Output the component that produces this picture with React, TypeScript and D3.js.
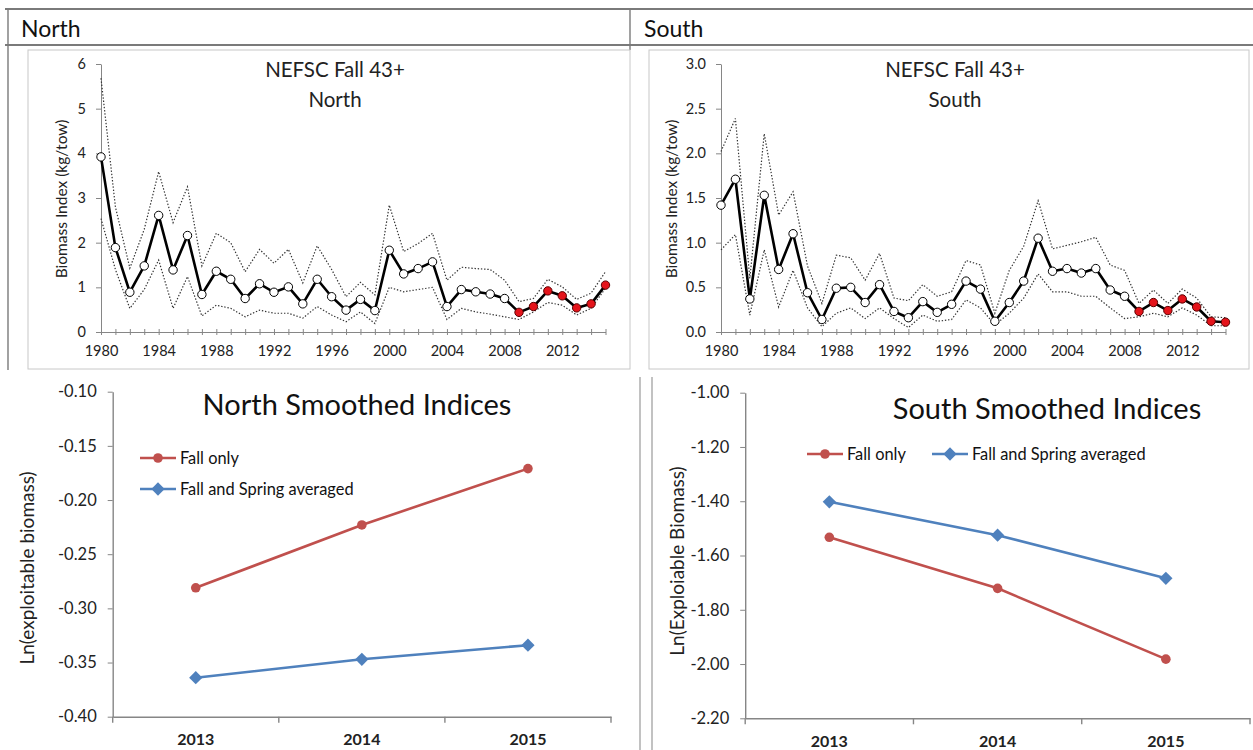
import React, { useEffect, useRef } from 'react';
import * as d3 from 'd3';

const FONT = 'Lato, "Open Sans", sans-serif';

// survey years (top panels)
const YEARS = [1980, 1981, 1982, 1983, 1984, 1985, 1986, 1987, 1988, 1989,
    1990, 1991, 1992, 1993, 1994, 1995, 1996, 1997, 1998, 1999,
    2000, 2001, 2002, 2003, 2004, 2005, 2006, 2007, 2008, 2009,
    2010, 2011, 2012, 2013, 2014, 2015];
const RED_FROM = 2009;

const NORTH_MEAN = [3.92, 1.89, 0.89, 1.48, 2.61, 1.39, 2.16, 0.84, 1.36, 1.18,
    0.75, 1.08, 0.89, 1.01, 0.63, 1.18, 0.79, 0.49, 0.73, 0.48,
    1.83, 1.30, 1.42, 1.57, 0.57, 0.95, 0.90, 0.85, 0.75, 0.44,
    0.57, 0.92, 0.81, 0.54, 0.63, 1.05];
const NORTH_UPPER = [5.68, 2.8, 1.43, 2.3, 3.59, 2.45, 3.25, 1.48, 2.21, 2.0,
    1.35, 1.85, 1.54, 1.85, 1.1, 1.93, 1.4, 0.79, 1.11, 0.83,
    2.84, 1.80, 1.98, 2.21, 1.16, 1.45, 1.42, 1.40, 1.16, 0.68,
    0.75, 1.18, 1.01, 0.73, 0.87, 1.35];
const NORTH_LOWER = [2.54, 1.4, 0.53, 0.95, 1.61, 0.53, 1.24, 0.36, 0.60, 0.53,
    0.34, 0.49, 0.42, 0.42, 0.31, 0.57, 0.38, 0.23, 0.45, 0.19,
    1.0, 0.90, 0.95, 1.0, 0.28, 0.53, 0.45, 0.40, 0.34, 0.28,
    0.45, 0.66, 0.60, 0.38, 0.53, 0.98];

const SOUTH_MEAN = [1.42, 1.71, 0.37, 1.53, 0.70, 1.10, 0.44, 0.14, 0.49, 0.50,
    0.33, 0.53, 0.23, 0.16, 0.34, 0.22, 0.31, 0.57, 0.48, 0.12,
    0.33, 0.57, 1.05, 0.68, 0.71, 0.66, 0.71, 0.47, 0.40, 0.23,
    0.33, 0.24, 0.37, 0.28, 0.12, 0.11];
const SOUTH_UPPER = [2.02, 2.39, 0.6, 2.22, 1.31, 1.57, 0.74, 0.32, 0.86, 0.83,
    0.58, 0.88, 0.38, 0.35, 0.53, 0.40, 0.45, 0.80, 0.75, 0.21,
    0.69, 0.96, 1.47, 0.93, 0.97, 1.01, 1.06, 0.75, 0.69, 0.32,
    0.47, 0.32, 0.48, 0.38, 0.17, 0.16];
const SOUTH_LOWER = [0.92, 1.09, 0.19, 0.92, 0.28, 0.69, 0.27, 0.06, 0.21, 0.27,
    0.15, 0.27, 0.15, 0.05, 0.19, 0.12, 0.14, 0.36, 0.27, 0.08,
    0.21, 0.38, 0.65, 0.45, 0.45, 0.40, 0.40, 0.27, 0.15, 0.17,
    0.21, 0.17, 0.27, 0.19, 0.07, 0.07];

const NORTH_Y_TICKS = [0, 1, 2, 3, 4, 5, 6];
const SOUTH_Y_TICKS = [0, 0.5, 1.0, 1.5, 2.0, 2.5, 3.0];

// smoothed indices (bottom panels)
const SMOOTH_YEARS = ['2013', '2014', '2015'];
const NORTH_FALL_ONLY = [-0.281, -0.223, -0.171];
const NORTH_FALL_SPRING = [-0.364, -0.347, -0.334];
const SOUTH_FALL_ONLY = [-1.533, -1.721, -1.982];
const SOUTH_FALL_SPRING = [-1.402, -1.525, -1.684];
const NORTH_SMOOTH_TICKS = [-0.40, -0.35, -0.30, -0.25, -0.20, -0.15, -0.10];
const SOUTH_SMOOTH_TICKS = [-2.2, -2.0, -1.8, -1.6, -1.4, -1.2, -1.0];

const RED = '#C0504D';
const BLUE = '#4F81BD';
const AXIS = '#868686';

function styleAxis(a, size, color = '#222', weight = 'normal') {
    a.selectAll('.domain').attr('stroke', AXIS);
    a.selectAll('.tick line').attr('stroke', AXIS);
    a.selectAll('text')
        .attr('font-family', FONT)
        .attr('font-size', size)
        .attr('font-weight', weight)
        .attr('fill', color);
}

function drawSurvey(svg, c) {
    const g = svg.append('g');

    g.append('rect')
        .attr('x', c.box[0]).attr('y', 50)
        .attr('width', c.box[1] - c.box[0]).attr('height', 319)
        .attr('fill', 'none').attr('stroke', '#c8c8c8');

    const x = d3.scaleLinear().domain([YEARS[0], YEARS[YEARS.length - 1]]).range(c.xRange);
    const y = d3.scaleLinear().domain([0, c.yMax]).range([332, 64]);

    // x axis: labels every 4 years, ticks every year crossing the line
    const xa = g.append('g')
        .attr('transform', `translate(0,${y(0)})`)
        .call(d3.axisBottom(x).tickValues(YEARS).tickSize(3).tickSizeOuter(0).tickPadding(11)
            .tickFormat(d => ((+d - 1980) % 4 === 0 ? String(d) : '')));
    styleAxis(xa, 14.5);
    const xt = g.append('g')
        .attr('transform', `translate(0,${y(0)})`)
        .call(d3.axisTop(x).tickValues(YEARS).tickSize(3).tickFormat(() => ''));
    xt.select('.domain').remove();
    styleAxis(xt, 14.5);

    const ya = g.append('g')
        .attr('transform', `translate(${c.xRange[0]},0)`)
        .call(d3.axisLeft(y).tickValues(c.yTicks).tickSize(5).tickSizeOuter(0).tickPadding(10)
            .tickFormat(c.fmt));
    styleAxis(ya, 14.5);

    // y label
    g.append('text')
        .attr('transform', `translate(${c.yLabelX},199) rotate(-90)`)
        .attr('text-anchor', 'middle')
        .attr('dy', '0.35em')
        .attr('font-family', FONT).attr('font-size', 15.5).attr('fill', '#222')
        .text('Biomass Index (kg/tow)');

    // title
    g.append('text')
        .attr('x', c.titleX).attr('y', 77)
        .attr('text-anchor', 'middle')
        .attr('font-family', FONT).attr('font-size', 20.5).attr('fill', '#222')
        .text('NEFSC Fall 43+');
    g.append('text')
        .attr('x', c.titleX).attr('y', 107)
        .attr('text-anchor', 'middle')
        .attr('font-family', FONT).attr('font-size', 20.5).attr('fill', '#222')
        .text(c.region);

    const line = d3.line().x((_, i) => x(YEARS[i])).y(d => y(d));

    [c.upper, c.lower].forEach(s => {
        g.append('path')
            .attr('d', line(s))
            .attr('fill', 'none')
            .attr('stroke', '#333')
            .attr('stroke-width', 1.2)
            .attr('stroke-dasharray', '1.4 1.8');
    });

    g.append('path')
        .attr('d', line(c.mean))
        .attr('fill', 'none')
        .attr('stroke', '#000')
        .attr('stroke-width', 2.6)
        .attr('stroke-linejoin', 'round');

    g.selectAll('circle.pt')
        .data(c.mean)
        .join('circle')
        .attr('class', 'pt')
        .attr('cx', (_, i) => x(YEARS[i]))
        .attr('cy', d => y(d))
        .attr('r', 4.2)
        .attr('fill', (_, i) => (YEARS[i] >= RED_FROM ? '#e4141b' : '#fff'))
        .attr('stroke', (_, i) => (YEARS[i] >= RED_FROM ? '#5a0000' : '#000'))
        .attr('stroke-width', 1);
}

function drawSmoothed(svg, c) {
    const g = svg.append('g');

    const x = d3.scaleBand().domain(SMOOTH_YEARS).range(c.xRange).padding(0);
    const y = d3.scaleLinear().domain(c.yDomain).range(c.yRange);

    const ya = g.append('g')
        .attr('transform', `translate(${c.xRange[0]},0)`)
        .call(d3.axisLeft(y).tickValues(c.yTicks).tickSize(5).tickSizeOuter(0).tickPadding(11)
            .tickFormat(d => (+d).toFixed(2)));
    styleAxis(ya, 16.5);
    ya.select('.domain').attr('stroke-width', 1.4);

    const xa = g.append('g')
        .attr('transform', `translate(0,${c.yRange[0]})`)
        .call(d3.axisBottom(x).tickSize(0).tickSizeOuter(0).tickPadding(17));
    styleAxis(xa, 16, '#222', 'bold');
    xa.select('.domain').attr('stroke-width', 1.4);

    // category boundary ticks
    const bounds = [c.xRange[0], ...SMOOTH_YEARS.map(d => x(d) + x.bandwidth())];
    g.selectAll('line.bt')
        .data(bounds)
        .join('line')
        .attr('class', 'bt')
        .attr('x1', d => d).attr('x2', d => d)
        .attr('y1', c.yRange[0]).attr('y2', c.yRange[0] + 6)
        .attr('stroke', AXIS).attr('stroke-width', 1.4);

    g.append('text')
        .attr('transform', `translate(${c.yLabelX},${c.yLabelY}) rotate(-90)`)
        .attr('text-anchor', 'middle')
        .attr('dy', '0.35em')
        .attr('font-family', FONT).attr('font-size', 19).attr('fill', '#222')
        .text(c.yLabel);

    g.append('text')
        .attr('x', c.titleX).attr('y', c.titleY)
        .attr('text-anchor', 'middle')
        .attr('font-family', FONT).attr('font-size', 29).attr('fill', '#111')
        .text(c.title);

    const cx = d => x(d) + x.bandwidth() / 2;
    const line = d3.line().x((_, i) => cx(SMOOTH_YEARS[i])).y(d => y(d));
    const diamond = d3.symbol(d3.symbolSquare, 88);

    const series = [
        { name: 'Fall only', values: c.fall, color: RED, marker: 'circle' },
        { name: 'Fall and Spring averaged', values: c.both, color: BLUE, marker: 'diamond' },
    ];

    series.forEach(s => {
        g.append('path')
            .attr('d', line(s.values))
            .attr('fill', 'none')
            .attr('stroke', s.color)
            .attr('stroke-width', 2.6);
        s.values.forEach((v, i) => {
            const px = cx(SMOOTH_YEARS[i]);
            const py = y(v);
            if (s.marker === 'circle') {
                g.append('circle').attr('cx', px).attr('cy', py).attr('r', 4.8).attr('fill', s.color);
            } else {
                g.append('path').attr('d', diamond())
                    .attr('transform', `translate(${px},${py}) rotate(45)`)
                    .attr('fill', s.color);
            }
        });
    });

    // legend
    series.forEach((s, i) => {
        const lx = c.legend[i][0];
        const ly = c.legend[i][1];
        g.append('line')
            .attr('x1', lx).attr('x2', lx + 36)
            .attr('y1', ly).attr('y2', ly)
            .attr('stroke', s.color).attr('stroke-width', 2.6);
        if (s.marker === 'circle') {
            g.append('circle').attr('cx', lx + 18).attr('cy', ly).attr('r', 4.8).attr('fill', s.color);
        } else {
            g.append('path').attr('d', diamond())
                .attr('transform', `translate(${lx + 18},${ly}) rotate(45)`)
                .attr('fill', s.color);
        }
        g.append('text')
            .attr('x', lx + 40).attr('y', ly)
            .attr('dy', '0.35em')
            .attr('font-family', FONT).attr('font-size', 16.4).attr('fill', '#111')
            .text(s.name);
    });
}

const App = () => {
    const svgRef = useRef(null);

    useEffect(() => {
        const svg = d3.select(svgRef.current);
        svg.selectAll('*').remove();

        // table frame
        const frame = svg.append('g').attr('stroke', '#7a7a7a').attr('stroke-width', 1.8);
        frame.append('line').attr('x1', 5).attr('x2', 1253).attr('y1', 9).attr('y2', 9);
        frame.append('line').attr('x1', 5).attr('x2', 1253).attr('y1', 45).attr('y2', 45);
        frame.append('line').attr('x1', 8).attr('x2', 8).attr('y1', 9).attr('y2', 370).attr('stroke-width', 1.4);
        frame.append('line').attr('x1', 630).attr('x2', 630).attr('y1', 9).attr('y2', 50).attr('stroke-width', 1.4);
        svg.append('line').attr('x1', 640).attr('x2', 640).attr('y1', 377).attr('y2', 750)
            .attr('stroke', '#a8a8a8').attr('stroke-width', 1.4);
        svg.append('line').attr('x1', 652).attr('x2', 652).attr('y1', 377).attr('y2', 750)
            .attr('stroke', '#a8a8a8').attr('stroke-width', 1.4);

        svg.append('text').attr('x', 21).attr('y', 37)
            .attr('font-family', FONT).attr('font-size', 23).attr('fill', '#111').text('North');
        svg.append('text').attr('x', 644).attr('y', 37)
            .attr('font-family', FONT).attr('font-size', 23).attr('fill', '#111').text('South');

        drawSurvey(svg, {
            box: [28, 630], xRange: [101, 605.5], yMax: 6, yTicks: NORTH_Y_TICKS,
            fmt: d => String(d), mean: NORTH_MEAN, upper: NORTH_UPPER, lower: NORTH_LOWER,
            region: 'North', titleX: 335, yLabelX: 62,
        });
        drawSurvey(svg, {
            box: [649, 1249], xRange: [721, 1225.5], yMax: 3, yTicks: SOUTH_Y_TICKS,
            fmt: d => (+d).toFixed(1), mean: SOUTH_MEAN, upper: SOUTH_UPPER, lower: SOUTH_LOWER,
            region: 'South', titleX: 955, yLabelX: 672,
        });

        drawSmoothed(svg, {
            xRange: [112.7, 611], yDomain: [-0.40, -0.10], yRange: [716.7, 391.7],
            yTicks: NORTH_SMOOTH_TICKS, fall: NORTH_FALL_ONLY, both: NORTH_FALL_SPRING,
            title: 'North Smoothed Indices', titleX: 357, titleY: 415,
            yLabel: 'Ln(exploitable biomass)', yLabelX: 27, yLabelY: 568,
            legend: [[140, 458], [140, 489]],
        });
        drawSmoothed(svg, {
            xRange: [745.2, 1250], yDomain: [-2.2, -1.0], yRange: [718.3, 392.7],
            yTicks: SOUTH_SMOOTH_TICKS, fall: SOUTH_FALL_ONLY, both: SOUTH_FALL_SPRING,
            title: 'South Smoothed Indices', titleX: 1047, titleY: 419,
            yLabel: 'Ln(Exploiable Biomass)', yLabelX: 677, yLabelY: 561,
            legend: [[807, 454], [932, 454]],
        });
    }, []);

    return (
        <svg
            ref={svgRef}
            width={1253}
            height={750}
            style={{ position: 'absolute', left: 0, top: 0, display: 'block', background: '#fff' }}
        />
    );
};

export default App;
